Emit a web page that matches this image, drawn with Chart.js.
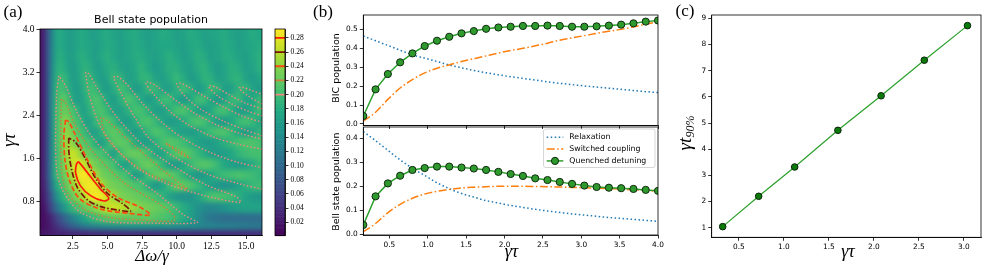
<!DOCTYPE html>
<html>
<head>
<meta charset="utf-8">
<script src="https://cdn.jsdelivr.net/npm/chart.js@4.4.1/dist/chart.umd.min.js"></script>
<style>
  html, body { margin: 0; padding: 0; background: #fff; }
  #fig { position: relative; width: 986px; height: 270px; overflow: hidden; }
  #fig canvas { position: absolute; }
</style>
</head>
<body>
<div id="fig">
  <canvas id="heat" width="268" height="270" style="left:0;top:0"></canvas>
  <canvas id="cbar" width="62" height="270" style="left:268px;top:0"></canvas>
  <canvas id="bic" width="365" height="136" style="left:305px;top:0"></canvas>
  <canvas id="bell" width="365" height="154" style="left:305px;top:116px"></canvas>
  <canvas id="t90" width="326" height="270" style="left:660px;top:0"></canvas>
</div>
<script>
// ---------- (a) Bell state population map, values in units of 0.01 ----------
const mapDetuning = [0.3, 0.55, 0.8, 1.05, 1.3, 1.55, 1.8, 2.05, 2.3, 2.55, 2.8, 3.1, 3.45, 3.8, 4.2, 4.6, 5.0, 5.5, 6.0, 6.5,
  7.0, 7.5, 8.0, 8.5, 9.0, 9.5, 10.0, 10.5, 11.0, 11.5, 12.0, 12.5, 13.0, 13.5, 14.0, 14.5, 15.0, 15.5, 16.0];
const mapTau = [0.22, 0.34, 0.5, 0.7, 0.9, 1.1, 1.3, 1.5, 1.7, 1.9, 2.1, 2.3, 2.5, 2.7, 2.9, 3.1, 3.3, 3.5, 3.7, 3.9];
const bellMap = [
  [2,2,2.5,2.5,3,3,3,3,3.5,3.5,3.5,3.5,3.5,4,4,4,4,4,4,4,4,4,4,4,4,4,4,4,4,4,4,4,4,4,4,4,4,4,4],
  [1,1.5,2,3,4,5,6,7,8,9,10,11,12,12.5,13,13.5,14,14.5,14.5,15,15,15,15,15,15,15,14.5,14.5,14,14,13.5,13.5,13,13,13,12.5,12.5,12,12],
  [1,1.5,2.5,4,5.5,7,8.5,10,11.5,13,14.5,16,17.5,19,20,21,21.5,22,22,22,22,22,22,21.5,21,20.5,19.5,18,16.5,14.5,12.5,11.5,11,10.5,10.5,10.5,10.5,10.5,10.5],
  [1,2.5,5,7.5,10,12.5,14.5,16.5,18.5,19.5,20.5,21.5,22.5,23,24,25.5,26.5,27,26.5,25.5,24.5,23.5,23,22.5,22,21,19.5,18,16.5,15,14,13.5,14,15,16,16.5,17,17,17],
  [1.5,3.5,6.5,10,13.5,16.5,18.5,20,21.5,22.5,23.5,25,26.5,28,29,28.5,27,25,23.5,23,22.5,22,21.5,20.5,19,17,15.5,15,15,16.5,19,20.5,21,20.5,20,18.5,17,16,15.5],
  [2,4,8.5,13,17,19,20.5,22,23,24.5,26,27.5,28.5,29,28.5,26,23.5,23,22.5,22,21,20.5,18,15.5,17.5,20,22,22,21,19.5,18,16.5,15.5,15,15.5,17,18.5,19.5,20],
  [2,5,9.5,14.5,19.5,20.5,22,23,24.5,26,28,29,29,27.5,25,23,22.5,22,21,20,16,17,20.5,22,22.5,22,21,19,17,15.5,16,17.5,19,20,20.5,21,20.5,20,19],
  [2,5,9.5,14.5,19.5,21,22.5,24,25.5,27,28,27.5,26.5,24,23,22,21.5,20.5,17.5,16.5,20,22,22.5,21.5,19,16.5,16,17.5,19.5,21,21.5,21,19.5,17.5,16.5,16,16.5,18,19.5],
  [2,5,10,15,19,21,23,24.5,26.5,27,26,24,22.5,22,21,20.5,19.5,16,20,22,22.5,22,20,17,17,19.5,21.5,22,21,19.5,18,16.5,16,16.5,17.5,19,20,20.5,20.5],
  [2,5,10,15,19.5,21.5,23,25,25.5,24,22.5,22,21,20.5,18,16,18.5,21.5,22,21.5,18.5,16.5,16.5,18.5,20.5,21.5,21,20,18.5,17,16,16,17,18.5,19.5,20.5,21,21,20.5],
  [2,5,10,15,19.5,21.5,23,24.5,24,22.5,21.5,20.5,19.5,16.5,16.5,19,21,22,21,18,16,17.5,19.5,21,20.5,19,17.5,16.5,16,17,18.5,20,21,21,19.5,17.5,16,17,19],
  [2,5,10,15,19.5,21.5,23.5,24,22.5,21.5,20.5,19.5,16.5,17,19.5,21,21.5,20,17,16,18,20.5,21,19.5,17.5,16,16.5,18,20,21,20.5,18.5,16.5,16,17.5,19.5,20.5,19.5,17.5],
  [2,5,10,15,19.5,21.5,22.5,22.5,21.5,20.5,19.5,16.5,17,19,20.5,21,19.5,17,16.5,18.5,20.5,20.5,18.5,16.5,16.5,18.5,20.5,21,19,17,16,17.5,20,20.5,18.5,16.5,16.5,18,20],
  [2,5,10,15,19,21,22,21.5,19.5,17.5,16,16.5,18,20,21,20,17.5,16,18.5,21,20,17.5,16,17.5,20,20,17.5,16,17.5,20,20,17.5,16,17,19.5,19.5,17,17.5,19.5],
  [2,5,10,15,18.5,20.5,20.5,19.5,18,16.5,16,17,19,20.5,19.5,17,16,18,20.5,19,16,17,19.5,19.5,17,16.5,18.5,20,18.5,16,17,19.5,19,16.5,16.5,19,19,17,16],
  [2,5,10,15,18,19.5,20,19,17,16,16.5,18,19.5,19.5,17.5,16,17,19.5,19,16.5,17,19,19,17,16.5,18,19.5,18,16,17,19,18.5,16.5,17,18.5,19,17,16,17.5],
  [2,5,10,14.5,17.5,19,18.5,17.5,16.5,16,17,18,19,18,16.5,16.5,18,18.5,17,16.5,17.5,19,17.5,16,17,18.5,18.5,17,16.5,18,19,17.5,16,17,18.5,18,16.5,17,18.5],
  [2,5,10,14,17,18.5,18,17,16,16.5,17.5,18.5,18,17,16.5,17.5,18.5,17.5,16.5,17,18,18,17,16.5,17.5,18.5,17.5,16.5,17,18.5,18,16.5,17,18,18,17,16.5,17.5,18.5],
  [2,5,10,14,17,18,17.5,16.5,16,16.5,17,18,17.5,17,16.5,17,18,17.5,16.5,17,18,17.5,16.5,17,17.5,17.5,17,16.5,17.5,18,17,16.5,17,18,17.5,16.5,17,17.5,18],
  [2,5,10,14,17,18,17.5,16.5,16,16.5,17,18,17.5,16.5,16.5,17.5,18,17,16.5,17.5,18,17,16.5,17,18,17.5,16.5,17,18,17.5,16.5,17,17.5,18,17,16.5,17,18,17.5]
];

// contour lines, [Δω/γ, γτ]
const lvl28 = [[2.9,1.54],[3.3,1.42],[3.78,1.26],[4.5,1.03],[5.1,0.86],[4.74,0.81],[3.78,0.91],[3.05,1.09],[2.7,1.33],[2.77,1.5],[2.9,1.54]];
const lvl26 = [[2.2,1.98],[2.22,1.7],[2.45,1.35],[2.85,1.05],[3.6,0.82],[4.6,0.7],[5.8,0.64],[6.66,0.62],[6.1,0.76],[5.0,0.95],[4.1,1.25],[3.4,1.6],[2.7,1.9],[2.2,1.98]];
const lvl24 = [[1.97,2.31],[1.85,2.02],[1.95,1.53],[2.3,1.16],[3.0,0.85],[4.5,0.66],[6.6,0.58],[8.1,0.55],[7.38,0.69],[5.7,0.88],[4.5,1.15],[3.5,1.6],[2.6,2.08],[2.2,2.28],[1.97,2.31]];
const lvl22a = [[1.66,2.7],[1.68,1.4],[2.09,0.97],[3.3,0.66],[4.98,0.51],[7.38,0.46],[9.8,0.44],[9.8,0.54],[8.58,0.78],[6.18,1.15],[3.78,1.77],[2.57,2.27],[1.97,2.64],[1.66,2.7]];
const lvl22b = [[4.5,2.36],[4.98,1.96],[7.4,1.4],[10.75,1.03],[10.3,1.12],[9.0,1.38],[6.42,1.96],[5.0,2.3],[4.5,2.36]];
const lvl22c = [[9.2,1.88],[10.1,1.76],[11.0,1.6],[10.2,1.7],[9.2,1.88]];
const lvl20a = [[1.49,3.13],[1.32,2.76],[1.32,1.4],[1.85,0.97],[3.05,0.6],[4.98,0.43],[8.0,0.4],[11.47,0.41],[10.5,0.55],[8.58,0.95],[6.18,1.4],[4.0,1.96],[2.81,2.45],[1.97,2.95],[1.49,3.13]];
const lvl20b = [[3.41,3.2],[3.7,2.76],[4.6,2.14],[6.6,1.53],[9.0,1.16],[12.0,0.91],[14.6,0.78],[14.35,0.88],[12.2,1.1],[10.0,1.42],[7.6,1.84],[5.6,2.39],[4.3,2.89],[3.65,3.17],[3.41,3.2]];
const lvl20c = [[16.15,1.03],[14.5,1.13],[12.3,1.3],[10.0,1.6],[8.1,1.95],[7.0,2.35],[6.0,2.8],[5.46,3.1],[5.7,3.12],[6.3,3.0],[7.6,2.6],[9.0,2.25],[10.6,1.95],[12.5,1.7],[14.5,1.52],[16.15,1.43]];
const lvl20d = [[16.15,1.77],[14.5,1.86],[12.8,1.98],[11.0,2.2],[9.6,2.45],[8.3,2.8],[7.74,3.0],[7.9,3.02],[8.6,2.93],[9.8,2.7],[11.2,2.45],[12.9,2.22],[14.6,2.06],[16.15,1.96]];
const lvl20e = [[16.15,2.02],[14.8,2.14],[13.3,2.3],[11.8,2.5],[10.6,2.75],[10.0,2.98],[10.2,3.0],[10.8,2.93],[12.0,2.75],[13.4,2.55],[14.8,2.38],[16.15,2.27]];
const lvl20f = [[16.15,2.39],[15.2,2.47],[14.2,2.58],[13.0,2.75],[12.3,2.93],[12.4,2.95],[12.8,2.92],[13.8,2.78],[15.0,2.62],[16.15,2.52]];
const lvl20g = [[16.15,2.61],[15.2,2.75],[14.5,2.9],[14.7,2.92],[15.3,2.87],[16.15,2.79]];
const levels = [0.20, 0.22, 0.24, 0.26, 0.28];

const mapXTicks = [2.5, 5.0, 7.5, 10.0, 12.5, 15.0];
const mapYTicks = [0.8, 1.6, 2.4, 3.2, 4.0];
const cbarTicks = [0.02, 0.04, 0.06, 0.08, 0.10, 0.12, 0.14, 0.16, 0.18, 0.20, 0.22, 0.24, 0.26, 0.28];

// ---------- (b) populations vs γτ ----------
const gammaTau = [0.16, 0.32, 0.48, 0.64, 0.80, 0.96, 1.12, 1.28, 1.44, 1.60, 1.76, 1.92, 2.08, 2.24, 2.40, 2.56, 2.72, 2.88, 3.04, 3.20, 3.36, 3.52, 3.68, 3.84, 4.00];
const bicRelax = [0.465, 0.44, 0.415, 0.39, 0.365, 0.348, 0.33, 0.312, 0.297, 0.283, 0.271, 0.26, 0.25, 0.241, 0.232, 0.223, 0.215, 0.208, 0.201, 0.195, 0.189, 0.183, 0.177, 0.171, 0.166];
const bicSwitch = [0.015, 0.062, 0.13, 0.19, 0.235, 0.27, 0.295, 0.312, 0.33, 0.345, 0.36, 0.375, 0.388, 0.4, 0.413, 0.427, 0.443, 0.455, 0.467, 0.479, 0.49, 0.5, 0.513, 0.527, 0.54];
const bicQuench = [0.042, 0.183, 0.264, 0.326, 0.373, 0.412, 0.44, 0.461, 0.479, 0.491, 0.503, 0.51, 0.514, 0.518, 0.518, 0.52, 0.518, 0.514, 0.514, 0.516, 0.52, 0.525, 0.532, 0.541, 0.547];
const bellRelax = [0.428, 0.39, 0.35, 0.31, 0.275, 0.245, 0.215, 0.19, 0.17, 0.155, 0.14, 0.13, 0.12, 0.112, 0.104, 0.097, 0.091, 0.085, 0.08, 0.075, 0.07, 0.066, 0.062, 0.058, 0.054];
const bellSwitch = [0.01, 0.045, 0.09, 0.125, 0.15, 0.168, 0.179, 0.187, 0.193, 0.196, 0.198, 0.2, 0.2, 0.2, 0.199, 0.198, 0.197, 0.195, 0.194, 0.192, 0.19, 0.188, 0.185, 0.182, 0.178];
const bellQuench = [0.039, 0.158, 0.212, 0.244, 0.268, 0.276, 0.282, 0.282, 0.278, 0.274, 0.268, 0.26, 0.251, 0.243, 0.233, 0.226, 0.218, 0.21, 0.203, 0.197, 0.194, 0.192, 0.189, 0.185, 0.181];
const bXTicks = [0.5, 1.0, 1.5, 2.0, 2.5, 3.0, 3.5, 4.0];
const bicYTicks = [0.0, 0.1, 0.2, 0.3, 0.4, 0.5];
const bellYTicks = [0.0, 0.1, 0.2, 0.3, 0.4];

// ---------- (c) time to 90 % ----------
const tauC = [0.32, 0.72, 1.12, 1.60, 2.08, 2.56, 3.04];
const t90 = [1.04, 2.2, 3.32, 4.72, 6.04, 7.4, 8.72];
const cXTicks = [0.5, 1.0, 1.5, 2.0, 2.5, 3.0];
const cYTicks = [1, 2, 3, 4, 5, 6, 7, 8, 9];

// ---------- helpers ----------
const CB_MIN = 0.0015, CB_MAX = 0.2925;
const VIRIDIS = ['#440154', '#482475', '#414487', '#355f8d', '#2a788e', '#21918c', '#22a884', '#44bf70', '#7ad151', '#bddf26', '#fde725']
  .map(h => [1, 3, 5].map(i => parseInt(h.substr(i, 2), 16)));
function viridis(v) {
  let t = Math.max(0, Math.min(1, (v - CB_MIN) / (CB_MAX - CB_MIN))) * 10;
  const i = Math.min(9, Math.floor(t)), f = t - i;
  const a = VIRIDIS[i], b = VIRIDIS[i + 1];
  return 'rgb(' + a.map((c, k) => Math.round(c + (b[k] - c) * f)).join(',') + ')';
}
function edges(c, lo, hi) {
  const e = [lo];
  for (let i = 0; i < c.length - 1; i++) e.push((c[i] + c[i + 1]) / 2);
  e.push(hi);
  return e;
}

const SANS = 'DejaVu Sans';
const SERIF = 'Liberation Serif';
Chart.defaults.font.family = SANS;
Chart.defaults.color = '#000';

function axis(min, max, ticks, fmt, font, fit, extra) {
  return Object.assign({
    type: 'linear', min, max,
    afterBuildTicks: s => { s.ticks = ticks.map(v => ({ value: v })); },
    afterFit: fit,
    grid: { drawOnChartArea: false, drawTicks: true, tickLength: 3.5, color: '#000', lineWidth: 0.8 },
    border: { display: true, color: '#000', width: 0.8 },
    ticks: { display: fmt !== null, color: '#000', padding: 2, autoSkip: false, maxRotation: 0, font, callback: fmt || (() => '') }
  }, extra || {});
}

const frame = {
  id: 'frame',
  afterDraw(chart) {
    const { ctx, chartArea: a } = chart;
    ctx.save();
    ctx.strokeStyle = '#000';
    ctx.lineWidth = 0.8;
    ctx.strokeRect(a.left, a.top, a.right - a.left, a.bottom - a.top);
    ctx.restore();
  }
};

function texts(items) {
  return {
    id: 'texts',
    afterDraw(chart) {
      const ctx = chart.ctx;
      items.forEach(t => {
        ctx.save();
        ctx.fillStyle = '#000';
        ctx.textBaseline = 'middle';
        ctx.translate(t.x, t.y);
        if (t.rot) ctx.rotate(t.rot);
        ctx.font = t.font;
        if (t.sub) {
          const w1 = ctx.measureText(t.text).width;
          ctx.font = t.subFont;
          const w2 = ctx.measureText(t.sub).width;
          ctx.textAlign = 'left';
          ctx.font = t.font;
          ctx.fillText(t.text, -(w1 + w2) / 2, 0);
          ctx.font = t.subFont;
          ctx.fillText(t.sub, -(w1 + w2) / 2 + w1, t.subDy);
        } else {
          ctx.textAlign = t.align || 'center';
          ctx.fillText(t.text, 0, 0);
        }
        ctx.restore();
      });
    }
  };
}

// map cells: drawn on a scratch layer through the axes, then laid on the plot with a soft edge
const heatCells = {
  id: 'heatCells',
  beforeDatasetsDraw(chart) {
    const { ctx, chartArea: a, scales: { x, y }, width, height } = chart;
    const xe = edges(mapDetuning, x.min, x.max), ye = edges(mapTau, y.min, y.max);
    const layer = document.createElement('canvas');
    layer.width = width;
    layer.height = height;
    const lc = layer.getContext('2d');
    const pad = 10;
    bellMap.forEach((row, j) => {
      let y0 = y.getPixelForValue(ye[j + 1]), y1 = y.getPixelForValue(ye[j]);
      if (j === 0) y1 += pad;
      if (j === bellMap.length - 1) y0 -= pad;
      row.forEach((v, i) => {
        let x0 = x.getPixelForValue(xe[i]), x1 = x.getPixelForValue(xe[i + 1]);
        if (i === 0) x0 -= pad;
        if (i === row.length - 1) x1 += pad;
        lc.fillStyle = viridis(v / 100);
        lc.fillRect(Math.floor(x0), Math.floor(y0), Math.ceil(x1) - Math.floor(x0), Math.ceil(y1) - Math.floor(y0));
      });
    });
    ctx.save();
    ctx.beginPath();
    ctx.rect(a.left, a.top, a.right - a.left, a.bottom - a.top);
    ctx.clip();
    ctx.filter = 'blur(2.5px)';
    ctx.drawImage(layer, 0, 0);
    ctx.filter = 'none';
    ctx.restore();
  }
};

const LVL_STYLE = {
  0.20: { color: '#ee8a7e', dash: [1.5, 2], width: 1.4 },
  0.22: { color: '#cf7f3a', dash: [1.5, 2], width: 1.4 },
  0.24: { color: '#ff4a12', dash: [5, 2.5], width: 1.7 },
  0.26: { color: '#7a1408', dash: [6, 2, 1.5, 2], width: 1.7 },
  0.28: { color: '#ff1a0a', dash: [], width: 1.7 }
};
function contour(pts, level) {
  const s = LVL_STYLE[level];
  return { data: pts.map(([x, y]) => ({ x, y })), showLine: true, borderColor: s.color, borderWidth: s.width,
    borderDash: s.dash, pointRadius: 0, tension: 0.3, fill: false };
}

// ---------- chart (a) ----------
new Chart(document.getElementById('heat'), {
  type: 'scatter',
  data: {
    datasets: [
      ...[lvl20a, lvl20b, lvl20c, lvl20d, lvl20e, lvl20f, lvl20g].map(c => contour(c, 0.20)),
      ...[lvl22a, lvl22b, lvl22c].map(c => contour(c, 0.22)),
      contour(lvl24, 0.24), contour(lvl26, 0.26), contour(lvl28, 0.28)
    ]
  },
  options: {
    responsive: false, animation: false, events: [],
    layout: { padding: { left: 0, right: 6, top: 29, bottom: 0 } },
    plugins: { legend: { display: false }, tooltip: { enabled: false } },
    scales: {
      x: axis(0.13, 16.15, mapXTicks, v => v.toFixed(1), { family: SERIF, size: 9.5 }, s => { s.height = 34.5; }),
      y: axis(0.17, 4.0, mapYTicks, v => v.toFixed(1), { family: SERIF, size: 9.5 }, s => { s.width = 40; })
    }
  },
  plugins: [heatCells, frame, texts([
    { text: '(a)', x: 13, y: 12.5, font: '17px "' + SERIF + '"' },
    { text: 'Bell state population', x: 151, y: 20, font: '11px "' + SANS + '"' },
    { text: 'γτ', x: 10, y: 140, rot: -Math.PI / 2, font: 'italic 18px "' + SERIF + '"' },
    { text: 'Δω/γ', x: 152, y: 257, font: 'italic 17px "' + SERIF + '"' }
  ])]
});

// ---------- colorbar ----------
const cbarFill = {
  id: 'cbarFill',
  beforeDatasetsDraw(chart) {
    const { ctx, chartArea: a, scales: { y } } = chart;
    const n = 150;
    for (let k = 0; k < n; k++) {
      const v0 = y.min + (y.max - y.min) * k / n, v1 = y.min + (y.max - y.min) * (k + 1) / n;
      const p0 = y.getPixelForValue(v0), p1 = y.getPixelForValue(v1);
      ctx.fillStyle = viridis((v0 + v1) / 2);
      ctx.fillRect(a.left, p1, a.right - a.left, p0 - p1 + 0.6);
    }
  }
};
new Chart(document.getElementById('cbar'), {
  type: 'scatter',
  data: {
    datasets: levels.map(l => ({
      data: [{ x: 0, y: l }, { x: 1, y: l }], showLine: true, borderColor: LVL_STYLE[l].color,
      borderWidth: 1.8, pointRadius: 0
    }))
  },
  options: {
    responsive: false, animation: false, events: [],
    layout: { padding: { left: 7, right: 0, top: 29, bottom: 34.5 } },
    plugins: { legend: { display: false }, tooltip: { enabled: false } },
    scales: {
      x: { type: 'linear', min: 0, max: 1, display: false },
      y: axis(CB_MIN, CB_MAX, cbarTicks, v => v.toFixed(2), { family: SERIF, size: 7.5 }, s => { s.width = 45; }, { position: 'right' })
    }
  },
  plugins: [cbarFill, frame]
});

// ---------- chart (b) ----------
const pts = arr => gammaTau.map((x, i) => ({ x, y: arr[i] }));
function bSets(relax, sw, quench) {
  return [
    { label: 'Relaxation', data: pts(relax), borderColor: '#1f77b4', borderWidth: 1.5, borderDash: [1.5, 2.5],
      pointRadius: 0, cubicInterpolationMode: 'monotone', order: 3 },
    { label: 'Switched coupling', data: pts(sw), borderColor: '#ff7f0e', borderWidth: 1.5, borderDash: [8, 2.5, 1.5, 2.5],
      pointRadius: 0, cubicInterpolationMode: 'monotone', order: 2 },
    { label: 'Quenched detuning', data: pts(quench), borderColor: '#2ca02c', borderWidth: 1.5, pointRadius: 3.6,
      pointBackgroundColor: '#2e9a2e', pointBorderColor: '#102a10', pointBorderWidth: 1, tension: 0, order: 1 }
  ];
}
const TICK_SANS = { family: SANS, size: 7.4 };

new Chart(document.getElementById('bic'), {
  type: 'line',
  data: { datasets: bSets(bicRelax, bicSwitch, bicQuench) },
  options: {
    responsive: false, animation: false, events: [],
    layout: { padding: { left: 0, right: 12, top: 15, bottom: 0 } },
    plugins: { legend: { display: false }, tooltip: { enabled: false } },
    scales: {
      x: axis(0.16, 4.0, bXTicks, null, TICK_SANS, s => { s.height = 10.5; }),
      y: axis(-0.008, 0.576, bicYTicks, v => v.toFixed(1), TICK_SANS, s => { s.width = 58.3; })
    }
  },
  plugins: [frame, texts([
    { text: '(b)', x: 18, y: 12.5, font: '17px "' + SERIF + '"' },
    { text: 'BIC population', x: 32, y: 68, rot: -Math.PI / 2, font: '9.5px "' + SANS + '"' }
  ])]
});

const bLegend = {
  id: 'bLegend',
  afterDatasetsDraw(chart) {
    const ctx = chart.ctx;
    const bx = 238.5, by = 13, bw = 111.5, bh = 38.5;
    ctx.save();
    ctx.beginPath();
    ctx.roundRect(bx, by, bw, bh, 2);
    ctx.fillStyle = 'rgba(255,255,255,0.85)';
    ctx.fill();
    ctx.strokeStyle = '#cccccc';
    ctx.lineWidth = 0.8;
    ctx.stroke();
    chart.data.datasets.forEach((ds, i) => {
      const yy = by + 8.3 + i * 11.8;
      ctx.strokeStyle = ds.borderColor;
      ctx.lineWidth = ds.borderWidth;
      ctx.setLineDash(ds.borderDash || []);
      ctx.beginPath();
      ctx.moveTo(241.7, yy);
      ctx.lineTo(258.3, yy);
      ctx.stroke();
      ctx.setLineDash([]);
      if (ds.pointRadius > 0) {
        ctx.beginPath();
        ctx.arc(250, yy, ds.pointRadius, 0, Math.PI * 2);
        ctx.fillStyle = ds.pointBackgroundColor;
        ctx.fill();
        ctx.lineWidth = ds.pointBorderWidth;
        ctx.strokeStyle = ds.pointBorderColor;
        ctx.stroke();
      }
      ctx.fillStyle = '#000';
      ctx.font = '7.8px "' + SANS + '"';
      ctx.textAlign = 'left';
      ctx.textBaseline = 'middle';
      ctx.fillText(ds.label, 264.3, yy);
    });
    ctx.restore();
  }
};

new Chart(document.getElementById('bell'), {
  type: 'line',
  data: { datasets: bSets(bellRelax, bellSwitch, bellQuench) },
  options: {
    responsive: false, animation: false, events: [],
    layout: { padding: { left: 0, right: 12, top: 11, bottom: 0 } },
    plugins: { legend: { display: false }, tooltip: { enabled: false } },
    scales: {
      x: axis(0.16, 4.0, bXTicks, v => v.toFixed(1), TICK_SANS, s => { s.height = 35; }),
      y: axis(-0.003, 0.447, bellYTicks, v => v.toFixed(1), TICK_SANS, s => { s.width = 58.3; })
    }
  },
  plugins: [frame, bLegend, texts([
    { text: 'Bell state population', x: 32, y: 65.7, rot: -Math.PI / 2, font: '9.5px "' + SANS + '"' },
    { text: 'γτ', x: 206.5, y: 136, font: 'italic 18px "' + SERIF + '"' }
  ])]
});

// ---------- chart (c) ----------
new Chart(document.getElementById('t90'), {
  type: 'line',
  data: {
    datasets: [{
      data: tauC.map((x, i) => ({ x, y: t90[i] })), borderColor: '#2ca02c', borderWidth: 1.2, tension: 0,
      pointRadius: 3.3, pointBackgroundColor: '#0b7a0b', pointBorderColor: '#0a230a', pointBorderWidth: 1
    }]
  },
  options: {
    responsive: false, animation: false, events: [],
    layout: { padding: { left: 0, right: 1, top: 15, bottom: 0 } },
    plugins: { legend: { display: false }, tooltip: { enabled: false } },
    scales: {
      x: axis(0.198, 3.19, cXTicks, v => v.toFixed(1), TICK_SANS, s => { s.height = 32.7; }),
      y: axis(0.633, 9.127, cYTicks, v => String(v), TICK_SANS, s => { s.width = 51.7; })
    }
  },
  plugins: [frame, texts([
    { text: '(c)', x: 25, y: 11.5, font: '17px "' + SERIF + '"' },
    { text: 'γt', x: 25.5, y: 133, rot: -Math.PI / 2, font: 'italic 19px "' + SERIF + '"',
      sub: '90%', subFont: 'italic 12px "' + SERIF + '"', subDy: 5 },
    { text: 'γτ', x: 188, y: 252, font: 'italic 18px "' + SERIF + '"' }
  ])]
});
</script>
</body>
</html>
